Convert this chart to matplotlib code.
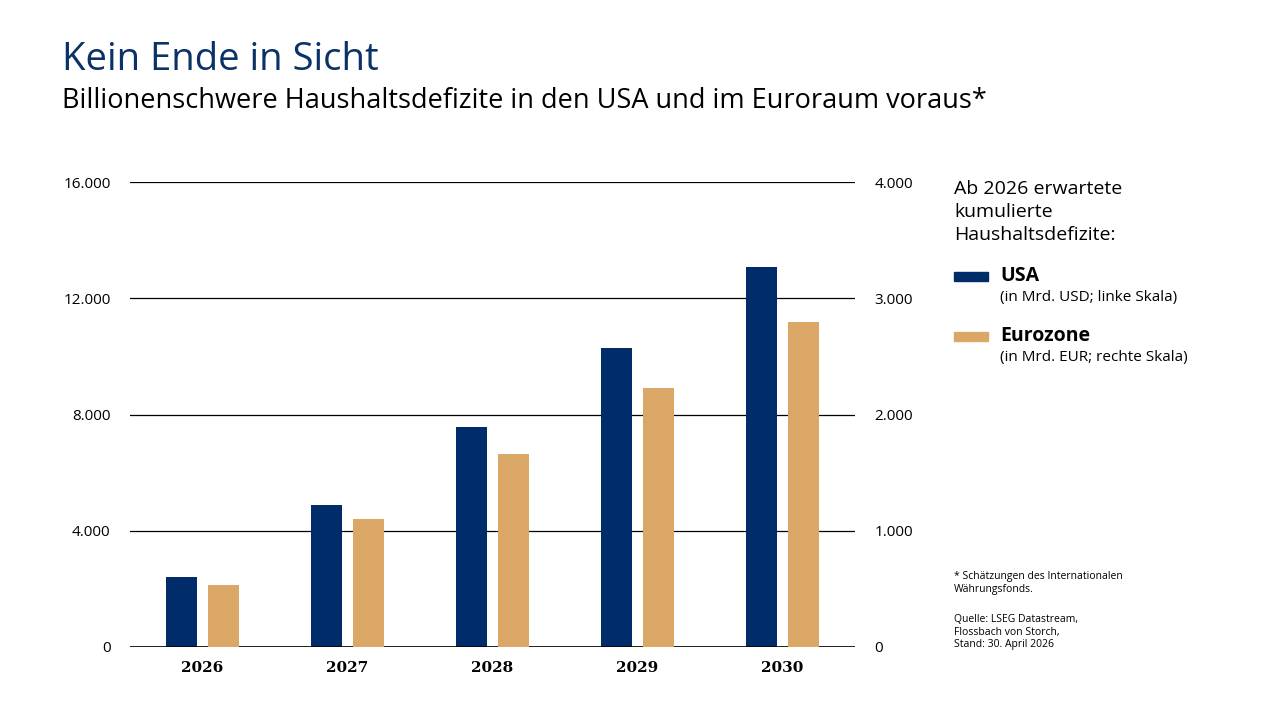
import numpy as np
import matplotlib.pyplot as plt

years = ['2026', '2027', '2028', '2029', '2030']
usa = [2400, 4890, 7570, 10290, 13080]        # Mrd. USD, left scale
eurozone = [533, 1100, 1660, 2230, 2795]      # Mrd. EUR, right scale
left_ticks = [0, 4000, 8000, 12000, 16000]
right_ticks = [0, 1000, 2000, 3000, 4000]

navy = '#002d69'
tan = '#dba766'
plt.rcParams['font.family'] = ['Open Sans', 'DejaVu Sans']

fig = plt.figure(figsize=(12.8, 7.2), dpi=100)
ax = fig.add_axes([130/1280, 1-647/720, 725/1280, 465/720])
ax2 = ax.twinx()

x = np.arange(len(years))
w = 0.22
ax.bar(x - 0.145, usa, w, color=navy, zorder=3)
ax2.bar(x + 0.145, eurozone, w, color=tan, zorder=3)

def fmt(v):
    return '{:,}'.format(v).replace(',', '.')

ax.set_ylim(0, 16000)
ax2.set_ylim(0, 4000)
ax.set_xlim(-0.5, 4.5)
ax.set_yticks(left_ticks)
ax.set_yticklabels([fmt(v) for v in left_ticks])
ax2.set_yticks(right_ticks)
ax2.set_yticklabels([fmt(v) for v in right_ticks])
ax.set_xticks(x)
ax.set_xticklabels(years, fontweight='bold', family=['DejaVu Serif'])
for a in (ax, ax2):
    for s in a.spines.values():
        s.set_visible(False)
    a.tick_params(length=0, labelsize=11)
ax.tick_params(axis='y', pad=14)
ax2.tick_params(axis='y', pad=14)
ax.tick_params(axis='x', pad=10)
ax.grid(axis='y', color='black', linewidth=0.9, zorder=0)
ax.set_axisbelow(True)
ax.axhline(0, color='black', linewidth=1.2, zorder=4)

fig.text(62/1280, 1-60/720, 'Kein Ende in Sicht', fontsize=27.5, color='#0b3266', va='center')
fig.text(62/1280, 1-101/720, 'Billionenschwere Haushaltsdefizite in den USA und im Euroraum voraus*',
         fontsize=19.5, color='black', va='center')

fig.text(954/1280, 1-180/720, 'Ab 2026 erwartete\nkumulierte\nHaushaltsdefizite:',
         fontsize=14, va='top', linespacing=1.35)
fig.patches.append(plt.Rectangle((954/1280, 1-281/720), 34/1280, 9/720,
                                 transform=fig.transFigure, color=navy))
fig.text(1000/1280, 1-276/720, 'USA', fontsize=14, fontweight='bold', va='center')
fig.text(1000/1280, 1-297/720, '(in Mrd. USD; linke Skala)', fontsize=11, va='center')
fig.patches.append(plt.Rectangle((954/1280, 1-341/720), 34/1280, 9/720,
                                 transform=fig.transFigure, color=tan))
fig.text(1000/1280, 1-336/720, 'Eurozone', fontsize=14, fontweight='bold', va='center')
fig.text(1000/1280, 1-357/720, '(in Mrd. EUR; rechte Skala)', fontsize=11, va='center')

fig.text(954/1280, 1-571/720, '* Schätzungen des Internationalen\nWährungsfonds.',
         fontsize=7.5, va='top', linespacing=1.2)
fig.text(954/1280, 1-614/720, 'Quelle: LSEG Datastream,\nFlossbach von Storch,\nStand: 30. April 2026',
         fontsize=7.5, va='top', linespacing=1.2)

fig.savefig('out.png', dpi=100)
